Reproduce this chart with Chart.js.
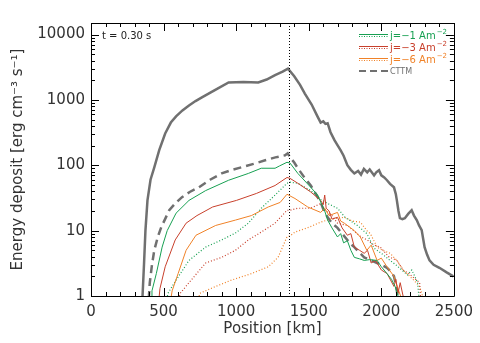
<!DOCTYPE html>
<html>
<head>
<meta charset="utf-8">
<script src="https://cdn.jsdelivr.net/npm/chart.js@4/dist/chart.umd.min.js"></script>
<style>
  body { margin: 0; background: #fff; }
  #wrap { width: 480px; height: 343px; }
</style>
</head>
<body>
<div id="wrap"><canvas id="myChart" width="480" height="343"></canvas></div>
<script>
// positions in km, energy deposit in erg cm^-3 s^-1
const totalPos = [352, 355, 365, 375, 389, 410, 436, 470, 511, 550, 586, 630, 675, 720, 764, 850, 948, 1050, 1152, 1210, 1268, 1320, 1357, 1400, 1440, 1473, 1520, 1560, 1582, 1600, 1615, 1630, 1650, 1678, 1700, 1719, 1740, 1766, 1790, 1814, 1840, 1860, 1880, 1903, 1920, 1950, 1965, 1984, 2000, 2020, 2039, 2060, 2087, 2100, 2107, 2118, 2128, 2145, 2162, 2185, 2209, 2225, 2244, 2260, 2278, 2298, 2315, 2332, 2360, 2400, 2450, 2496];
const totalVal = [0.8, 1.0, 3, 10, 29, 60, 93, 170, 306, 450, 560, 690, 820, 960, 1090, 1400, 1850, 1880, 1850, 2050, 2400, 2700, 3000, 2300, 1700, 1250, 850, 560, 450, 470, 430, 440, 320, 240, 200, 170, 140, 100, 85, 75, 82, 72, 88, 78, 86, 70, 78, 84, 70, 65, 59, 52, 46, 36, 29, 20, 15.5, 15, 15.5, 18, 20.5, 17, 14.5, 12, 10.2, 5.6, 4.3, 3.5, 3.0, 2.7, 2.3, 2.0];

const cttmPos = [398, 405, 420, 436, 460, 484, 539, 580, 627, 680, 743, 820, 900, 970, 1037, 1120, 1200, 1270, 1337, 1355, 1371, 1400, 1425, 1470, 1514, 1550, 1582, 1605, 1630, 1660, 1698, 1730, 1766, 1790, 1814, 1850, 1882, 1930, 1971, 2000, 2039, 2070, 2087, 2100, 2107, 2115];
const cttmVal = [0.9, 1.6, 3, 5, 8, 11.3, 20.5, 26, 32.5, 39, 46, 60, 75, 85, 93, 105, 119, 132, 142, 152, 133, 110, 90, 65, 49, 36, 27, 20, 16, 13, 11, 9, 7.2, 6.2, 5.6, 4.6, 3.9, 3.5, 3.2, 3.0, 2.7, 2.3, 2.0, 1.5, 1.2, 0.9];

const j1Pos = [414, 420, 450, 490, 525, 586, 675, 790, 948, 1084, 1173, 1268, 1300, 1350, 1371, 1425, 1514, 1561, 1590, 1610, 1630, 1660, 1698, 1720, 1740, 1766, 1790, 1814, 1850, 1882, 1920, 1971, 2000, 2039, 2070, 2095, 2110, 2120];
const j1Val = [0.9, 1.2, 2.2, 5.6, 10, 18.5, 29, 41, 59, 75, 90, 90, 98, 111, 108, 75, 46, 35, 25, 20, 14.5, 11, 8, 9, 6.5, 7, 5, 3.9, 3.7, 3.5, 3.6, 3.5, 2.8, 2.2, 1.8, 1.4, 1.1, 0.9];
const j1DotPos = [523, 530, 586, 675, 790, 900, 995, 1084, 1173, 1268, 1350, 1371, 1425, 1514, 1582, 1630, 1698, 1750, 1835, 1900, 1950, 2000, 2060, 2100, 2180, 2210, 2250, 2260];
const j1DotVal = [0.9, 1.1, 1.75, 3.5, 5.6, 7.2, 9.2, 13, 22, 35, 53, 55, 53, 41, 30, 26, 22, 16, 12, 9, 5.4, 4.5, 3.5, 3.0, 2.1, 2.5, 1.6, 0.9];

const j3Pos = [468, 475, 511, 580, 655, 730, 838, 1002, 1139, 1268, 1350, 1371, 1425, 1514, 1582, 1600, 1610, 1620, 1640, 1660, 1698, 1730, 1766, 1790, 1814, 1850, 1882, 1905, 1930, 1960, 2000, 2040, 2087, 2100, 2115, 2130, 2150, 2160];
const j3Val = [0.9, 1.3, 2.8, 7.2, 13, 17, 23, 29, 37, 49, 65, 63, 53, 39, 29, 25, 35, 22, 20, 15, 16, 11, 8.5, 9, 5.6, 5.0, 4.5, 5, 3.2, 3.5, 2.5, 2.2, 1.4, 1.8, 1.1, 1.6, 1.0, 0.9];
const j3DotPos = [605, 615, 675, 790, 900, 995, 1084, 1173, 1268, 1350, 1371, 1425, 1514, 1582, 1620, 1660, 1698, 1766, 1808, 1860, 1903, 1950, 1992, 2050, 2107, 2150, 2189, 2264, 2270];
const j3DotVal = [0.9, 1.1, 1.6, 3.2, 3.9, 5, 7.2, 9.5, 13, 20.5, 20.5, 22, 22, 26, 20, 17, 13, 12, 10, 8, 7.2, 6, 5.6, 4, 3.5, 2.5, 2.2, 1.6, 0.9];

const j6Pos = [550, 559, 600, 655, 723, 859, 995, 1105, 1221, 1303, 1350, 1405, 1493, 1582, 1610, 1640, 1698, 1720, 1745, 1814, 1855, 1900, 1930, 1971, 2000, 2039, 2087, 2120, 2140];
const j6Val = [0.9, 1.2, 2.2, 5, 8.5, 12, 14.5, 17, 23, 27, 36, 31, 23, 19, 22, 17, 19, 14, 13, 10, 8, 5, 6, 3.5, 3.8, 2.8, 2.0, 1.2, 0.9];
const j6DotPos = [740, 750, 859, 968, 1105, 1221, 1289, 1350, 1371, 1405, 1490, 1582, 1650, 1745, 1800, 1855, 1900, 1924, 1971, 2010, 2060, 2107, 2150, 2223, 2264, 2290];
const j6DotVal = [0.9, 1.1, 1.4, 1.75, 2.2, 2.8, 3.9, 8, 8.3, 9.5, 11, 13.5, 15, 16, 14, 13.5, 10, 9, 5.6, 5, 4.5, 3.5, 2.5, 1.75, 1.4, 0.9];

const xTicks = [0, 500, 1000, 1500, 2000, 2500];
const yTicks = [1, 10, 100, 1000, 10000];
const peakPos = 1365;
const timeLabel = 't = 0.30 s';
const legendLabels = ['j=\u22121 Am', 'j=\u22123 Am', 'j=\u22126 Am', 'CTTM'];
const legendSup = ['\u22122', '\u22122', '\u22122', ''];

const GREEN = '#17a052', RED = '#c8402c', ORANGE = '#f08228', GRAY = '#707070';
const legendColors = [GREEN, RED, ORANGE, GRAY];

function pts(pos, val) {
  return pos.map((p, i) => ({ x: p, y: val[i] }));
}

function line(label, pos, val, color, width, dash) {
  return {
    label: label,
    data: pts(pos, val),
    borderColor: color,
    borderWidth: width,
    borderDash: dash,
    pointRadius: 0,
    tension: 0,
    fill: false
  };
}

// frame, inward ticks, dotted peak line, label and legend
const decorations = {
  id: 'decorations',
  afterDatasetsDraw(chart) {
    const { ctx, chartArea: a, scales: { x, y } } = chart;
    ctx.save();
    ctx.strokeStyle = '#000';
    ctx.lineWidth = 1;

    // peak marker
    const px = Math.round(x.getPixelForValue(peakPos)) + 0.5;
    ctx.setLineDash([1, 2]);
    ctx.beginPath();
    ctx.moveTo(px, a.top);
    ctx.lineTo(px, a.bottom);
    ctx.stroke();
    ctx.setLineDash([]);

    // frame
    ctx.beginPath();
    ctx.rect(Math.round(a.left) + 0.5, Math.round(a.top) + 0.5,
      Math.round(a.right - a.left), Math.round(a.bottom - a.top));
    ctx.stroke();

    ctx.beginPath();
    for (let v = 0; v <= 2500; v += 100) {
      const xx = Math.round(x.getPixelForValue(v)) + 0.5;
      const len = v % 500 === 0 ? 8 : 4;
      ctx.moveTo(xx, a.bottom); ctx.lineTo(xx, a.bottom - len);
      ctx.moveTo(xx, a.top); ctx.lineTo(xx, a.top + len);
    }
    for (let d = 0; d <= 4; d++) {
      for (let m = 1; m <= 9; m++) {
        const v = m * Math.pow(10, d);
        if (v > y.max) break;
        const yy = Math.round(y.getPixelForValue(v)) + 0.5;
        const len = m === 1 ? 8 : 4;
        ctx.moveTo(a.left, yy); ctx.lineTo(a.left + len, yy);
        ctx.moveTo(a.right, yy); ctx.lineTo(a.right - len, yy);
      }
    }
    ctx.stroke();

    ctx.fillStyle = '#222';
    ctx.font = '10px "DejaVu Sans"';
    ctx.textBaseline = 'middle';
    ctx.fillText(timeLabel, a.left + 11, a.top + 13);

    // legend
    const rows = [35, 47, 59, 71];
    const lx0 = 359, lx1 = 388;
    legendLabels.forEach((lab, i) => {
      const c = legendColors[i];
      const ly = rows[i];
      ctx.strokeStyle = c;
      if (i < 3) {
        ctx.lineWidth = 1;
        ctx.setLineDash([]);
        ctx.beginPath(); ctx.moveTo(lx0, ly - 0.5); ctx.lineTo(lx1, ly - 0.5); ctx.stroke();
        ctx.setLineDash([1, 1.5]);
        ctx.beginPath(); ctx.moveTo(lx0, ly + 1.5); ctx.lineTo(lx1, ly + 1.5); ctx.stroke();
      } else {
        ctx.lineWidth = 2;
        ctx.setLineDash([7, 4]);
        ctx.beginPath(); ctx.moveTo(lx0, ly); ctx.lineTo(lx1, ly); ctx.stroke();
      }
      ctx.setLineDash([]);
      ctx.fillStyle = c;
      ctx.font = (i < 3 ? '10px' : '8px') + ' "DejaVu Sans"';
      ctx.fillText(lab, lx1 + 2, ly + 1);
      if (legendSup[i]) {
        const w = ctx.measureText(lab).width;
        ctx.font = '7px "DejaVu Sans"';
        ctx.fillText(legendSup[i], lx1 + 3 + w, ly - 3);
      }
    });
    ctx.restore();
  }
};

const ctx = document.getElementById('myChart').getContext('2d');
new Chart(ctx, {
  type: 'line',
  data: {
    datasets: [
      line('total', totalPos, totalVal, GRAY, 2.5, []),
      line('j=-1', j1Pos, j1Val, GREEN, 1, []),
      line('j=-3', j3Pos, j3Val, RED, 1, []),
      line('j=-6', j6Pos, j6Val, ORANGE, 1, []),
      line('j=-1 dot', j1DotPos, j1DotVal, GREEN, 1.2, [1, 2]),
      line('j=-3 dot', j3DotPos, j3DotVal, RED, 1.2, [1, 2]),
      line('j=-6 dot', j6DotPos, j6DotVal, ORANGE, 1.2, [1, 2]),
      line('CTTM', cttmPos, cttmVal, GRAY, 2.5, [8, 5])
    ]
  },
  options: {
    responsive: false,
    animation: false,
    layout: { padding: { left: 0, right: 22, top: 23, bottom: 0 } },
    plugins: { legend: { display: false }, tooltip: { enabled: false } },
    scales: {
      x: {
        type: 'linear',
        min: 0,
        max: 2500,
        afterFit(s) { s.height = 47; },
        afterBuildTicks(s) { s.ticks = xTicks.map(v => ({ value: v })); },
        grid: { display: false, drawTicks: false },
        border: { display: false },
        ticks: {
          padding: 7,
          color: '#333',
          font: { family: 'DejaVu Sans', size: 15 },
          callback: v => String(v)
        },
        title: {
          display: true,
          text: 'Position [km]',
          color: '#333',
          font: { family: 'DejaVu Sans', size: 15 },
          padding: { top: 0, bottom: 5 }
        }
      },
      y: {
        type: 'logarithmic',
        min: 1,
        max: 15000,
        afterFit(s) { s.width = 91; },
        afterBuildTicks(s) { s.ticks = yTicks.map(v => ({ value: v })); },
        grid: { display: false, drawTicks: false },
        border: { display: false },
        ticks: {
          padding: 6,
          autoSkip: false,
          color: '#333',
          font: { family: 'DejaVu Sans', size: 15 },
          callback: v => String(v)
        },
        title: {
          display: true,
          text: 'Energy deposit [erg cm\u207B\u00B3 s\u207B\u00B9]',
          color: '#333',
          font: { family: 'DejaVu Sans', size: 15 },
          padding: { top: 9, bottom: 0 }
        }
      }
    }
  },
  plugins: [decorations]
});
</script>
</body>
</html>
